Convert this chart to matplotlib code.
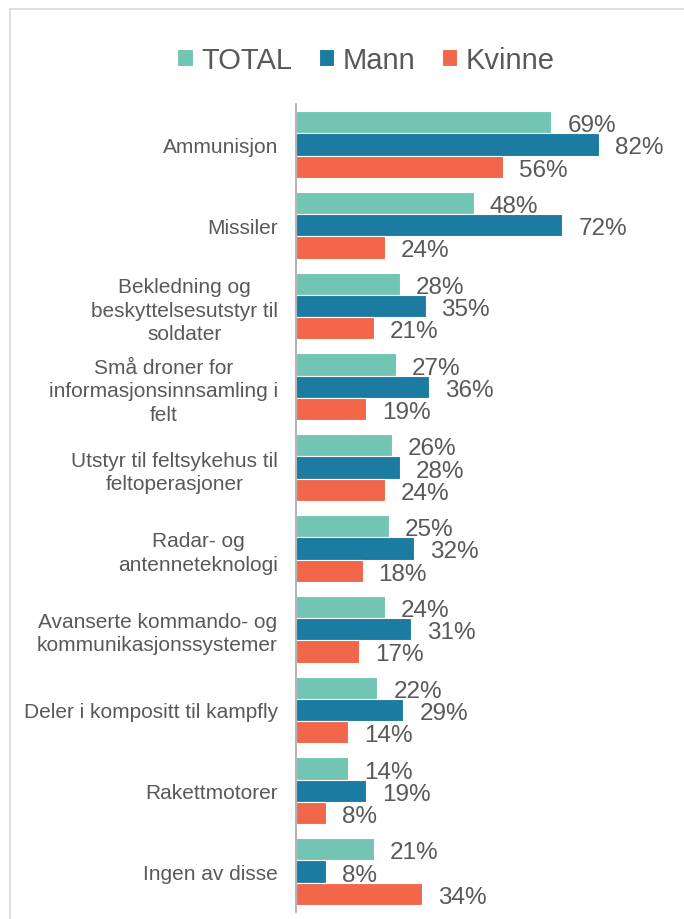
import matplotlib.pyplot as plt
from matplotlib.patches import Rectangle
import numpy as np

plt.rcParams['font.family'] = ['Liberation Sans', 'DejaVu Sans']

categories = [
    "Ammunisjon",
    "Missiler",
    "Bekledning og\nbeskyttelsesutstyr til\nsoldater",
    "Små droner for\ninformasjonsinnsamling i\nfelt",
    "Utstyr til feltsykehus til\nfeltoperasjoner",
    "Radar- og\nantenneteknologi",
    "Avanserte kommando- og\nkommunikasjonssystemer",
    "Deler i kompositt til kampfly",
    "Rakettmotorer",
    "Ingen av disse",
]
total = [69, 48, 28, 27, 26, 25, 24, 22, 14, 21]
mann = [82, 72, 35, 36, 28, 32, 31, 29, 19, 8]
kvinne = [56, 24, 21, 19, 24, 18, 17, 14, 8, 34]

series = [("TOTAL", total, "#72C4B3"),
          ("Mann", mann, "#1C7BA0"),
          ("Kvinne", kvinne, "#F2674A")]

grey = "#595959"
W, H = 684, 920
fig = plt.figure(figsize=(W / 100, H / 100), dpi=100)

# thin frame around the chart area
fig.patches.append(Rectangle((10 / W, -0.1), 1.1, (H - 10) / H + 0.1,
                             transform=fig.transFigure, fill=False,
                             edgecolor="#D9D9D9", linewidth=1.2))

ax = fig.add_axes([296 / W, 1 - 913 / H, (W - 296) / W, (913 - 105) / H])

y = np.arange(len(categories))
bh = 0.275
for i, (name, vals, col) in enumerate(series):
    pos = y + (i - 1) * bh
    bars = ax.barh(pos, vals, height=bh, color=col, edgecolor="white",
                   linewidth=0.8, label=name)
    for rect, v in zip(bars, vals):
        ax.annotate(f"{v}%", (v, rect.get_y() + rect.get_height() / 2),
                    xytext=(16, -3), textcoords="offset pixels",
                    ha="left", va="center", fontsize=17.5, color=grey)

ax.set_xlim(0, (W - 296) / 3.7)
ax.set_ylim(len(categories) - 0.5, -0.5)
ax.set_xticks([])
ax.set_yticks(y)
ax.set_yticklabels(categories, fontsize=15, color=grey,
                   multialignment="center", linespacing=1.28)
ax.tick_params(axis="y", length=0, pad=13)
for s in ["top", "right", "bottom"]:
    ax.spines[s].set_visible(False)
ax.spines["left"].set_color("#A6A6A6")
ax.spines["left"].set_linewidth(1.2)

handles, labels = ax.get_legend_handles_labels()
fig.legend(handles, labels, loc="center", bbox_to_anchor=(366 / W, 1 - 61 / H),
           ncol=3, frameon=False, fontsize=21, labelcolor=grey,
           handlelength=0.52, handleheight=0.52, handletextpad=0.3,
           columnspacing=0.9)

fig.savefig("out.png", dpi=100, facecolor="white")
